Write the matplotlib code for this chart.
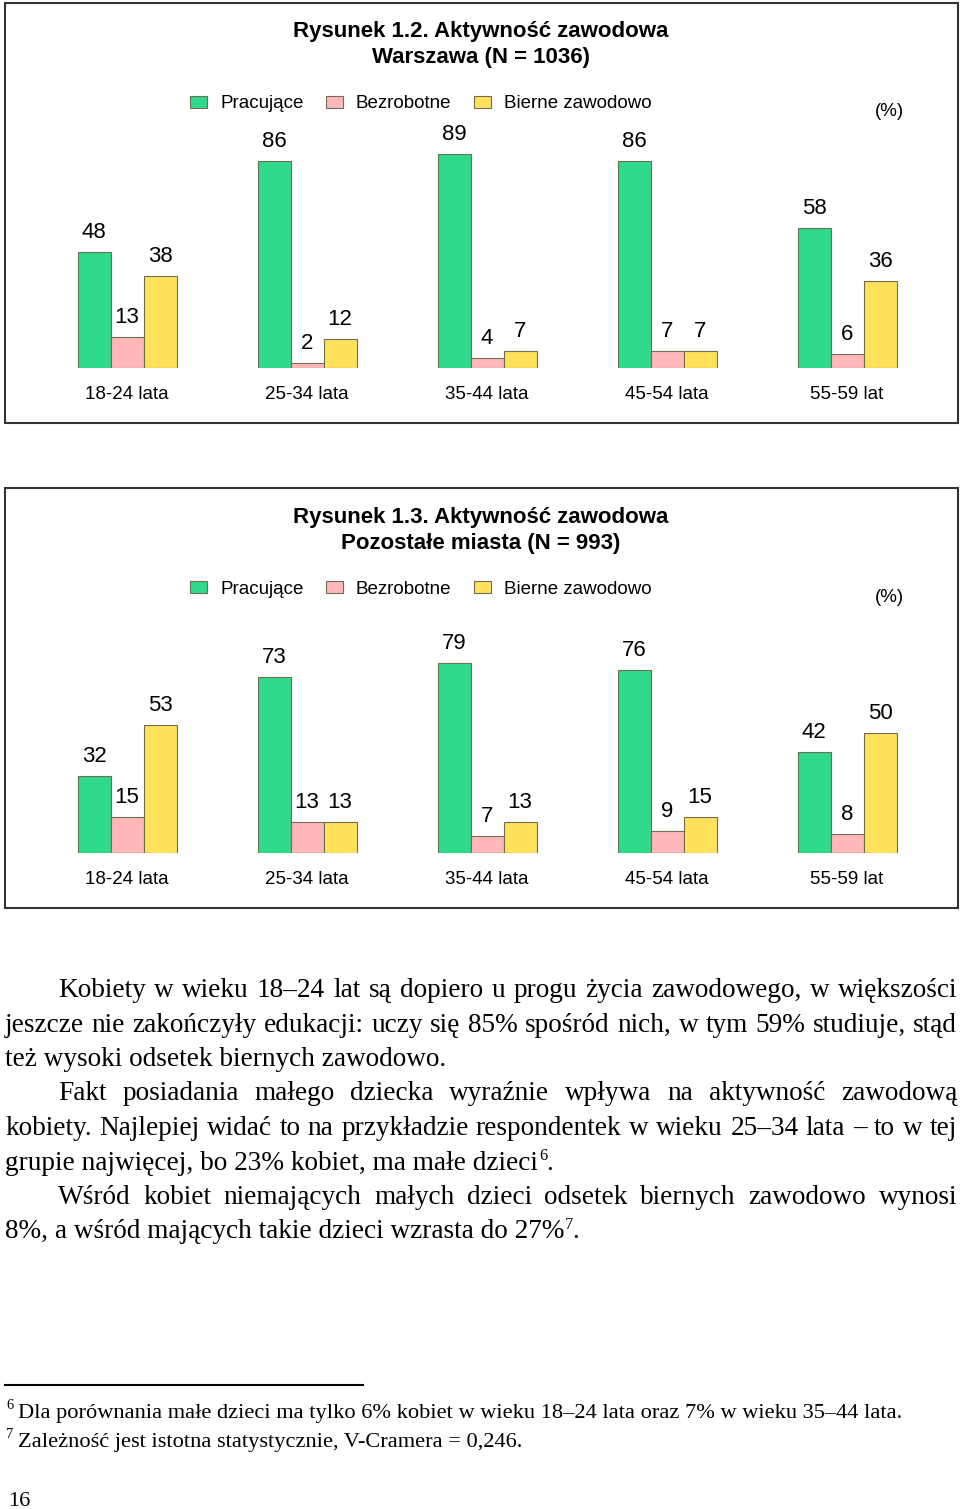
import numpy as np
import matplotlib
matplotlib.use('Agg')
import matplotlib.pyplot as plt
from matplotlib.patches import Rectangle, Patch
from matplotlib.lines import Line2D

W, H = 960, 1509
fig = plt.figure(figsize=(9.6, 15.09), dpi=100)
fig.patch.set_facecolor('white')

kategorie = ['18-24 lata', '25-34 lata', '35-44 lata', '45-54 lata', '55-59 lat']
serie = ['Pracujące', 'Bezrobotne', 'Bierne zawodowo']
kolory = ['#2fdb8b', '#ffb7b7', '#ffe15c']
krawedz = '#6e6e55'

warszawa_prac = [48, 86, 89, 86, 58]
warszawa_bezr = [13, 2, 4, 7, 6]
warszawa_bier = [38, 12, 7, 7, 36]

miasta_prac = [32, 73, 79, 76, 42]
miasta_bezr = [15, 13, 7, 9, 8]
miasta_bier = [53, 13, 13, 15, 50]

SANS = 'Liberation Sans'
SERIF = 'Liberation Serif'


def fx(x):
    return x / W


def fy(y):
    return 1 - y / H


def wykres(top, tytul1, tytul2, dane):
    # ramka
    fig.add_artist(Rectangle((fx(5), fy(top + 420)), fx(958) - fx(5), 420 / H,
                             transform=fig.transFigure, fill=False,
                             edgecolor='#333333', lw=1.5))
    fig.text(fx(481), fy(top + 29), tytul1, ha='center', va='center',
             size=16, weight='bold', family=SANS)
    fig.text(fx(481), fy(top + 55), tytul2, ha='center', va='center',
             size=16, weight='bold', family=SANS)
    fig.text(fx(889), fy(top + 109), '(%)', ha='center', va='center',
             size=13.5, family=SANS)

    base = top + 365
    ax = fig.add_axes([fx(7), fy(base), fx(956) - fx(7), (base - top - 140) / H])
    ax.set_xlim((7 - 127) / 180, (956 - 127) / 180)
    ax.set_ylim(0, (base - top - 140) / 2.41)
    ax.axis('off')

    x = np.arange(len(kategorie))
    w = 33 / 180
    for i, (wart, kol) in enumerate(zip(dane, kolory)):
        xs = x + (i - 1) * w
        ax.bar(xs, wart, width=w, color=kol, edgecolor=krawedz, lw=0.8)
        for xi, v in zip(xs, wart):
            ax.annotate(str(v), (xi, v), xytext=(0, 14), textcoords='offset points',
                        ha='center', va='center', size=16, family=SANS)
    for xi, k in zip(x, kategorie):
        ax.annotate(k, (xi, 0), xytext=(0, -19), textcoords='offset points',
                    ha='center', va='center', size=13.5, family=SANS)

    uchwyty = [Patch(facecolor=k, edgecolor=krawedz, lw=0.8) for k in kolory]
    fig.legend(uchwyty, serie, ncol=3, frameon=False, loc='center left',
               bbox_to_anchor=(fx(190), fy(top + 101)), borderpad=0, borderaxespad=0,
               handlelength=0.9, handleheight=0.6, handletextpad=0.7,
               columnspacing=1.2, prop={'family': SANS, 'size': 13.5})


wykres(3, 'Rysunek 1.2. Aktywność zawodowa', 'Warszawa (N = 1036)',
       [warszawa_prac, warszawa_bezr, warszawa_bier])
wykres(488, 'Rysunek 1.3. Aktywność zawodowa', 'Pozostałe miasta (N = 993)',
       [miasta_prac, miasta_bezr, miasta_bier])

renderer = fig.canvas.get_renderer()


def szerokosc(s, size):
    t = fig.text(0, 0, s, size=size, family=SERIF)
    w = t.get_window_extent(renderer).width
    t.remove()
    return w


def linia(s, x0, x1, y, size):
    # wyjustowana linia tekstu, slowo po slowie
    slowa = s.split(' ')
    szer = [szerokosc(s_, size) for s_ in slowa]
    odstep = (x1 - x0 - sum(szer)) / (len(slowa) - 1)
    x = x0
    for s_, sz in zip(slowa, szer):
        fig.text(fx(x), fy(y), s_, size=size, family=SERIF, va='baseline')
        x += sz + odstep


def ostatnia(s, x0, y, size, indeks=None):
    fig.text(fx(x0), fy(y), s, size=size, family=SERIF, va='baseline')
    if indeks:
        x = x0 + szerokosc(s, size)
        fig.text(fx(x + 1), fy(y - size * 0.5), indeks, size=size * 0.6,
                 family=SERIF, va='baseline')
        fig.text(fx(x + 8), fy(y), '.', size=size, family=SERIF, va='baseline')


fs = 10 * 442 / szerokosc('też wysoki odsetek biernych zawodowo.', 10)

L, R, WC = 5, 957, 58
linia('Kobiety w wieku 18–24 lat są dopiero u progu życia zawodowego, w większości', WC, R, 997, fs)
linia('jeszcze nie zakończyły edukacji: uczy się 85% spośród nich, w tym 59% studiuje, stąd', L, R, 1031.5, fs)
ostatnia('też wysoki odsetek biernych zawodowo.', L, 1066, fs)
linia('Fakt posiadania małego dziecka wyraźnie wpływa na aktywność zawodową', WC, R, 1100.5, fs)
linia('kobiety. Najlepiej widać to na przykładzie respondentek w wieku 25–34 lata – to w tej', L, R, 1135, fs)
ostatnia('grupie najwięcej, bo 23% kobiet, ma małe dzieci', L, 1169.5, fs, '6')
linia('Wśród kobiet niemających małych dzieci odsetek biernych zawodowo wynosi', WC, R, 1204, fs)
ostatnia('8%, a wśród mających takie dzieci wzrasta do 27%', L, 1238.5, fs, '7')

# przypisy
fig.add_artist(Line2D([fx(5), fx(363)], [fy(1385), fy(1385)], transform=fig.transFigure,
                      color='black', lw=1.5))
przypis6 = 'Dla porównania małe dzieci ma tylko 6% kobiet w wieku 18–24 lata oraz 7% w wieku 35–44 lata.'
przypis7 = 'Zależność jest istotna statystycznie, V-Cramera = 0,246.'
fp = 10 * 882 / szerokosc(przypis6, 10)
fig.text(fx(6), fy(1409), '6', size=fp * 0.65, family=SERIF, va='baseline')
fig.text(fx(18), fy(1418), przypis6, size=fp, family=SERIF, va='baseline')
fig.text(fx(6), fy(1438), '7', size=fp * 0.65, family=SERIF, va='baseline')
fig.text(fx(18), fy(1447), przypis7, size=fp, family=SERIF, va='baseline')

fig.text(fx(8), fy(1506), '16', size=16, family=SERIF, va='baseline')

fig.savefig('out.png', dpi=100)
